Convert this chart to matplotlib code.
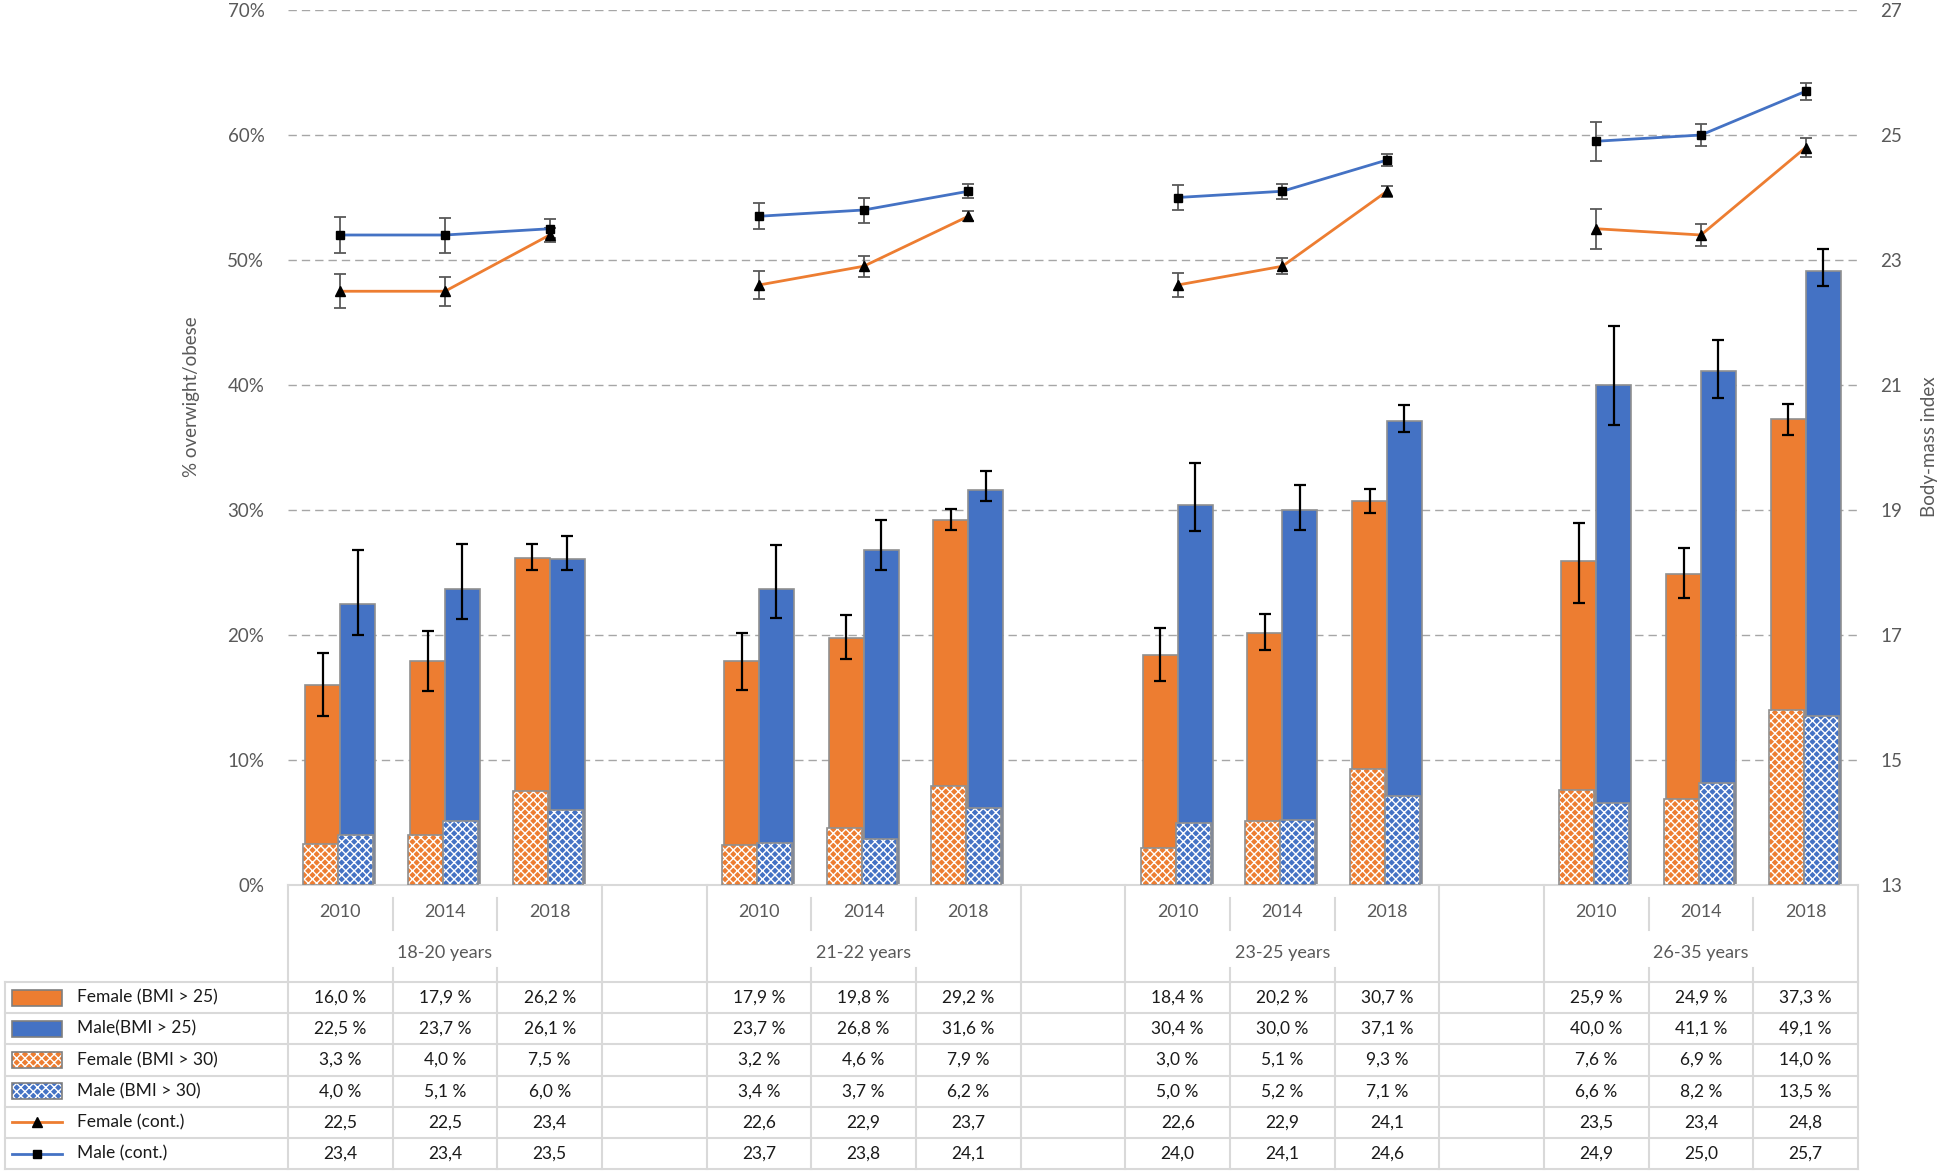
import numpy as np
import matplotlib.pyplot as plt
import matplotlib.transforms as mtransforms
from matplotlib.patches import Rectangle
from matplotlib.lines import Line2D

plt.rcParams['font.family'] = ['Lato', 'DejaVu Sans']
plt.rcParams['hatch.linewidth'] = 1.0

# data
groups = ['18-20 years', '21-22 years', '23-25 years', '26-35 years']
years = ['2010', '2014', '2018']

female25 = [16.0, 17.9, 26.2, 17.9, 19.8, 29.2, 18.4, 20.2, 30.7, 25.9, 24.9, 37.3]
male25 = [22.5, 23.7, 26.1, 23.7, 26.8, 31.6, 30.4, 30.0, 37.1, 40.0, 41.1, 49.1]
female30 = [3.3, 4.0, 7.5, 3.2, 4.6, 7.9, 3.0, 5.1, 9.3, 7.6, 6.9, 14.0]
male30 = [4.0, 5.1, 6.0, 3.4, 3.7, 6.2, 5.0, 5.2, 7.1, 6.6, 8.2, 13.5]
female_bmi = [22.5, 22.5, 23.4, 22.6, 22.9, 23.7, 22.6, 22.9, 24.1, 23.5, 23.4, 24.8]
male_bmi = [23.4, 23.4, 23.5, 23.7, 23.8, 24.1, 24.0, 24.1, 24.6, 24.9, 25.0, 25.7]

# error bars (lower, upper)
female25_lo = [2.5, 2.4, 1.0, 2.3, 1.7, 0.8, 2.1, 1.4, 0.9, 3.3, 1.9, 1.3]
female25_hi = [2.6, 2.4, 1.1, 2.3, 1.8, 0.9, 2.2, 1.5, 1.0, 3.1, 2.1, 1.2]
male25_lo = [2.5, 2.4, 0.9, 2.3, 1.6, 0.9, 2.1, 1.6, 0.9, 3.2, 2.1, 1.2]
male25_hi = [4.3, 3.6, 1.8, 3.5, 2.4, 1.5, 3.4, 2.0, 1.3, 4.7, 2.5, 1.8]
female_bmi_err = [0.27, 0.23, 0.11, 0.23, 0.17, 0.08, 0.19, 0.13, 0.09, 0.32, 0.18, 0.15]
male_bmi_err = [0.29, 0.28, 0.15, 0.21, 0.20, 0.11, 0.20, 0.12, 0.10, 0.31, 0.18, 0.14]

row_labels = ['Female (BMI > 25)', 'Male(BMI > 25)', 'Female (BMI > 30)',
              'Male (BMI > 30)', 'Female (cont.)', 'Male (cont.)']

ORANGE = '#ED7D31'
BLUE = '#4472C4'
EDGE = '#909090'
GRIDC = '#d9d9d9'
TXT = '#595959'

W, H = 1946, 1171
def fx(p):
    return p / W
def fy(p):
    return 1 - p / H

# each age group takes 4 slots (last slot empty), last group only 3
x = np.array([4 * g + j for g in range(4) for j in range(3)], dtype=float)
ncat = 15

fig = plt.figure(figsize=(W / 100, H / 100), dpi=100)
ax = fig.add_axes([fx(288), fy(885), fx(1858) - fx(288), fy(10) - fy(885)])
ax.set_xlim(-0.5, ncat - 0.5)
ax.set_ylim(0, 70)
ax.set_axisbelow(True)

bw = 0.334
ax.bar(x - bw / 2, female25, bw, color=ORANGE, edgecolor=EDGE, lw=1.2, zorder=2)
ax.bar(x + bw / 2, male25, bw, color=BLUE, edgecolor=EDGE, lw=1.2, zorder=2)
# hatched obese bars
ax.bar(x - bw / 2 - 0.02, female30, bw, color=ORANGE, edgecolor='white', hatch='xxxx', lw=0, zorder=3)
ax.bar(x - bw / 2 - 0.02, female30, bw, fill=False, edgecolor=EDGE, lw=1.2, zorder=3)
ax.bar(x + bw / 2 - 0.02, male30, bw, color=BLUE, edgecolor='white', hatch='xxxx', lw=0, zorder=3)
ax.bar(x + bw / 2 - 0.02, male30, bw, fill=False, edgecolor=EDGE, lw=1.2, zorder=3)

ax.errorbar(x - bw / 2, female25, yerr=[female25_lo, female25_hi], fmt='none',
            ecolor='black', elinewidth=1.6, capsize=4.5, capthick=1.6, zorder=5)
ax.errorbar(x + bw / 2, male25, yerr=[male25_lo, male25_hi], fmt='none',
            ecolor='black', elinewidth=1.6, capsize=4.5, capthick=1.6, zorder=5)

ax.set_yticks(np.arange(0, 71, 10))
ax.set_yticklabels([f'{v}%' for v in range(0, 71, 10)])
ax.yaxis.grid(True, color='#a6a6a6', lw=1.0, linestyle=(0, (6, 3.6)))
ax.set_xticks([])
ax.tick_params(axis='y', length=0, pad=17, labelsize=13.5, labelcolor=TXT)
for s in ['top', 'left', 'right']:
    ax.spines[s].set_visible(False)
ax.spines['bottom'].set_color(GRIDC)
ax.spines['bottom'].set_linewidth(1.5)

ax2 = ax.twinx()
ax2.set_ylim(13, 27)
ax2.set_yticks(np.arange(13, 28, 2))
ax2.tick_params(axis='y', length=0, pad=16, labelsize=13.5, labelcolor=TXT)
for s in ax2.spines.values():
    s.set_visible(False)

for g in range(4):
    sl = slice(3 * g, 3 * g + 3)
    ax2.errorbar(x[sl], female_bmi[sl], yerr=female_bmi_err[sl], color=ORANGE, lw=2.0,
                 marker='^', ms=7, mfc='black', mec='black', ecolor='#595959',
                 elinewidth=1.3, capsize=4, capthick=1.3)
    ax2.errorbar(x[sl], male_bmi[sl], yerr=male_bmi_err[sl], color=BLUE, lw=2.0,
                 marker='s', ms=6, mfc='black', mec='black', ecolor='#595959',
                 elinewidth=1.3, capsize=4, capthick=1.3)

fig.text(fx(192), fy(397), '% overwight/obese', rotation=90, ha='center', va='center',
         fontsize=13.5, color=TXT)
fig.text(fx(1930), fy(447), 'Body-mass index', rotation=90, ha='center', va='center',
         fontsize=13.5, color=TXT)

# data table under the chart
tr = mtransforms.blended_transform_factory(ax.transData, fig.transFigure)
row_h = 31.2
row_top = 982
row_y = [row_top + row_h * (k + 0.5) for k in range(6)]
tab_bottom = row_top + 6 * row_h

for j, xx in enumerate(x):
    fig.text(xx, fy(912), years[j % 3], transform=tr, ha='center', va='center',
             fontsize=13, color=TXT)
for g, name in enumerate(groups):
    fig.text(4 * g + 1, fy(953), name, transform=tr, ha='center', va='center',
             fontsize=13, color=TXT)

rows = [female25, male25, female30, male30, female_bmi, male_bmi]
for k, vals in enumerate(rows):
    for j, v in enumerate(vals):
        s = f'{v:.1f}'.replace('.', ',')
        if k < 4:
            s += ' %'
        fig.text(x[j], fy(row_y[k]), s, transform=tr, ha='center', va='center',
                 fontsize=12.5, color='#1a1a1a')

lkw = dict(color=GRIDC, lw=1.5, clip_on=False)
# horizontal lines of the table
for k in range(7):
    yy = fy(row_top + row_h * k)
    fig.add_artist(Line2D([fx(5), fx(1858)], [yy, yy], transform=fig.transFigure, **lkw))
# vertical lines in data rows
fig.add_artist(Line2D([fx(5), fx(5)], [fy(row_top), fy(tab_bottom)], transform=fig.transFigure, **lkw))
for b in np.arange(-0.5, ncat, 1.0):
    fig.add_artist(Line2D([b, b], [fy(row_top), fy(tab_bottom)], transform=tr, **lkw))
# header lines
for b in [-0.5, 2.5, 3.5, 6.5, 7.5, 10.5, 11.5, 14.5]:
    fig.add_artist(Line2D([b, b], [fy(885), fy(row_top)], transform=tr, **lkw))
for g in range(4):
    for b in [4 * g + 0.5, 4 * g + 1.5]:
        fig.add_artist(Line2D([b, b], [fy(898), fy(930)], transform=tr, **lkw))
        fig.add_artist(Line2D([b, b], [fy(968), fy(row_top)], transform=tr, **lkw))

# legend keys in the first table column
kx0, kx1 = 12, 62
for k, lab in enumerate(row_labels):
    yc = row_y[k]
    if k < 4:
        col = ORANGE if k % 2 == 0 else BLUE
        if k < 2:
            fig.add_artist(Rectangle((fx(kx0), fy(yc + 8)), fx(kx1) - fx(kx0), fy(yc - 8) - fy(yc + 8),
                                     transform=fig.transFigure, facecolor=col, edgecolor='#7f7f7f', lw=1.2))
        else:
            fig.add_artist(Rectangle((fx(kx0), fy(yc + 8)), fx(kx1) - fx(kx0), fy(yc - 8) - fy(yc + 8),
                                     transform=fig.transFigure, facecolor=col, edgecolor='white',
                                     hatch='xxxx', lw=0))
            fig.add_artist(Rectangle((fx(kx0), fy(yc + 8)), fx(kx1) - fx(kx0), fy(yc - 8) - fy(yc + 8),
                                     transform=fig.transFigure, fill=False, edgecolor='#7f7f7f', lw=1.2))
    else:
        col = ORANGE if k == 4 else BLUE
        mk = '^' if k == 4 else 's'
        fig.add_artist(Line2D([fx(kx0), fx(kx1)], [fy(yc), fy(yc)], transform=fig.transFigure,
                              color=col, lw=2.0))
        fig.add_artist(Line2D([fx((kx0 + kx1) / 2)], [fy(yc)], transform=fig.transFigure,
                              marker=mk, ms=7 if k == 4 else 6, color='black', lw=0))
    fig.text(fx(77), fy(yc), lab, ha='left', va='center', fontsize=12.5, color='#1a1a1a')

plt.savefig('out.png', dpi=100)
